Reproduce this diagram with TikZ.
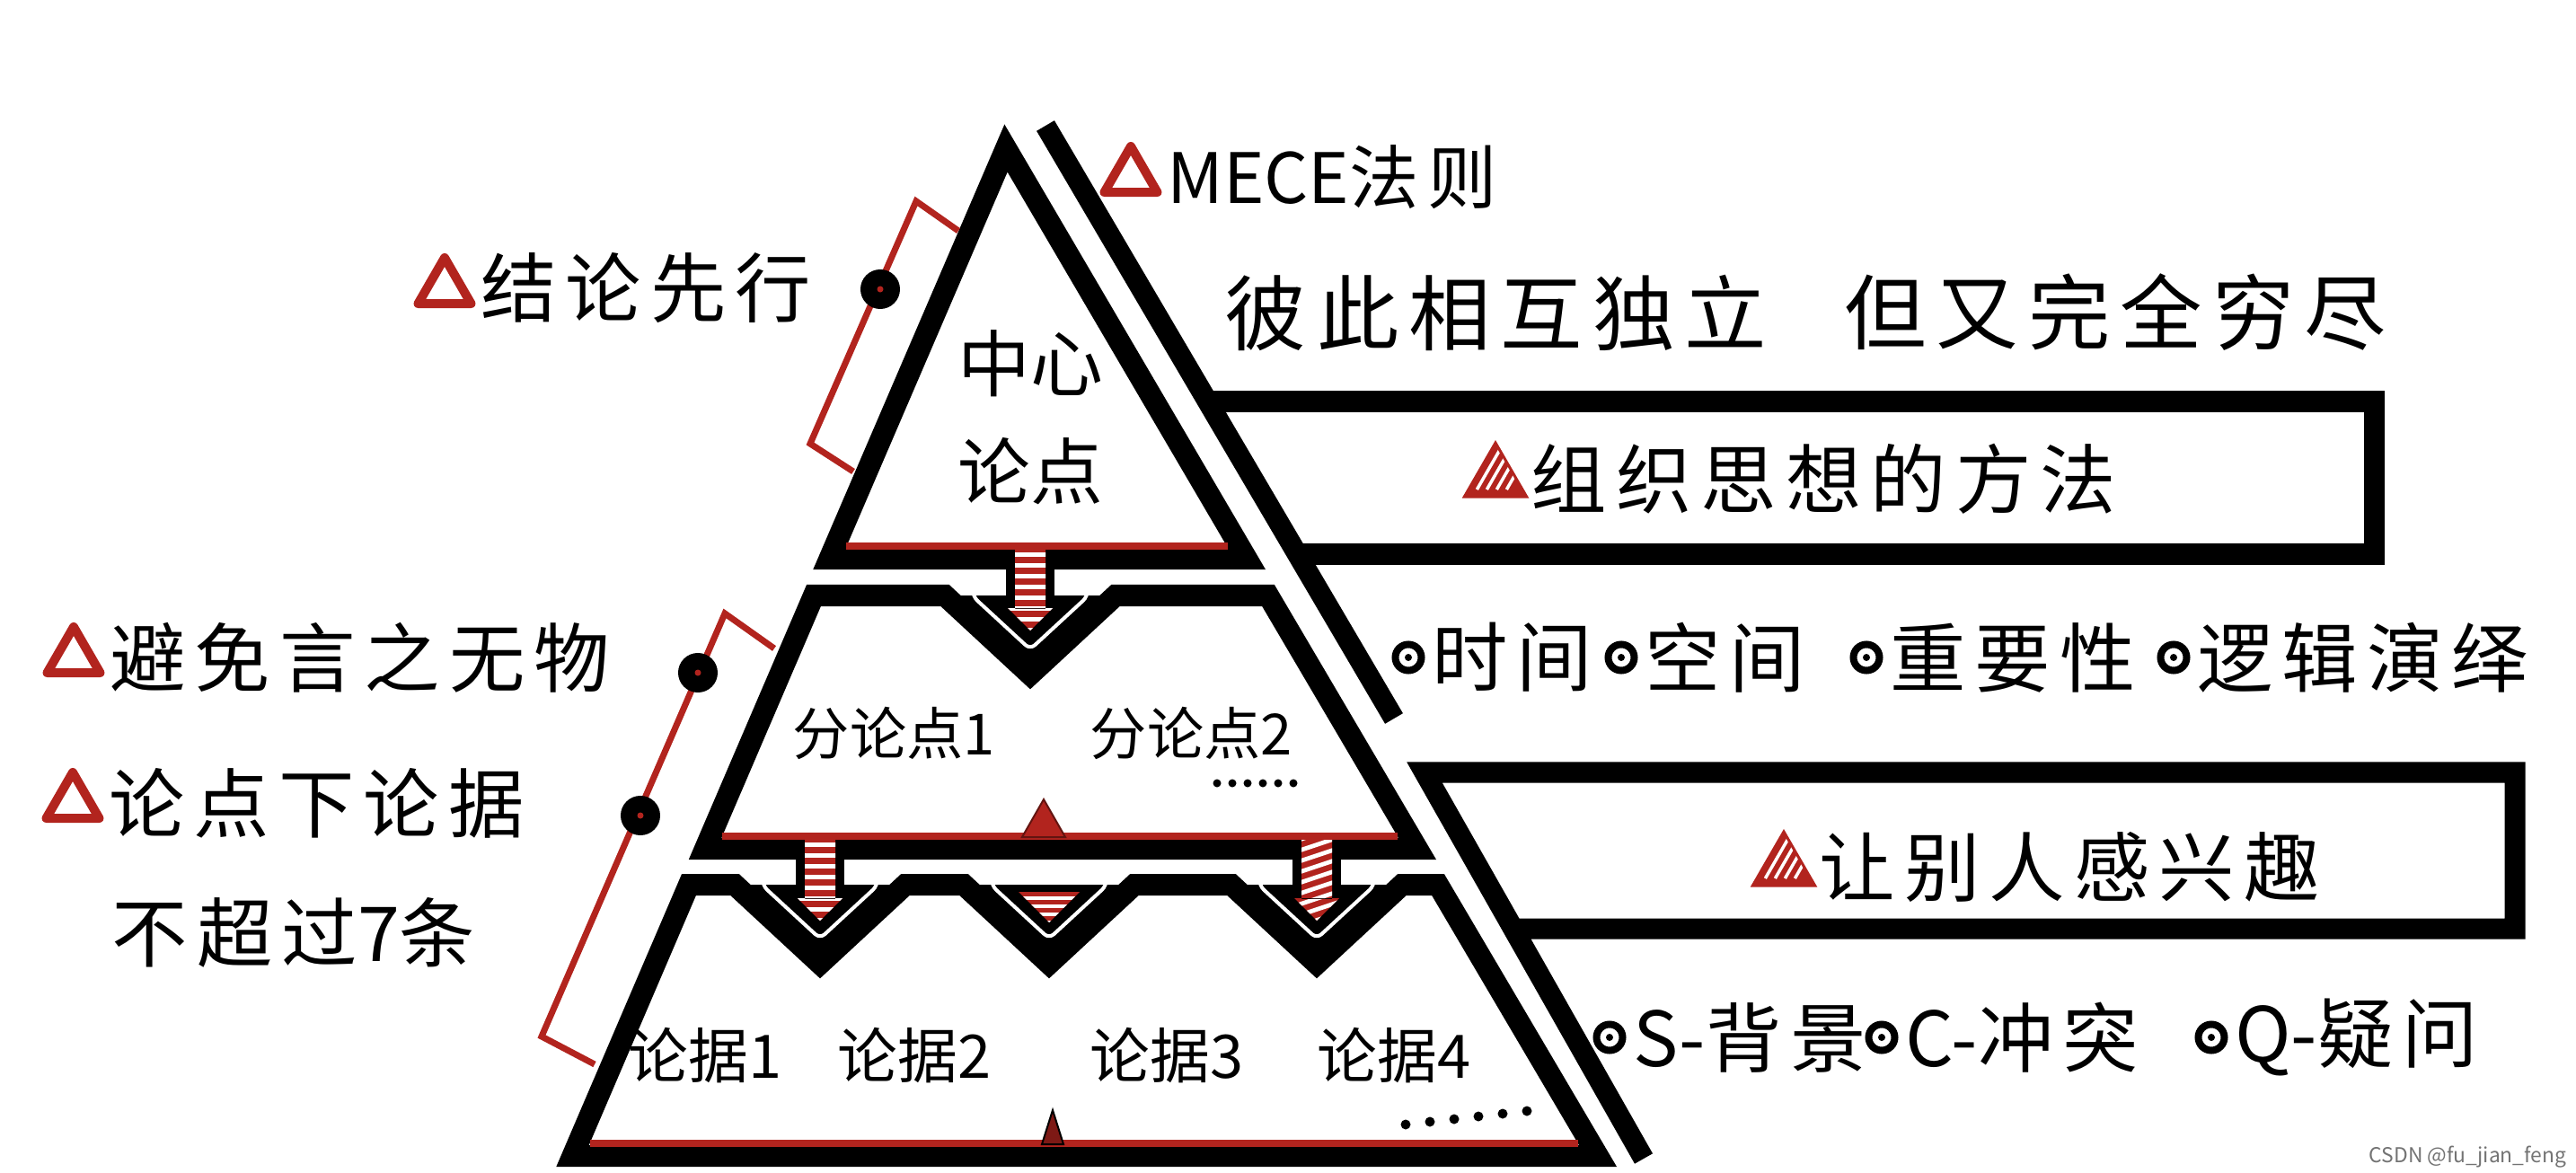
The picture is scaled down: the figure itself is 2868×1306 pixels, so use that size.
\documentclass[tikz,border=0pt]{standalone}
\usepackage{fontspec}
\newfontfamily\hand[LetterSpace=12]{Noto Sans CJK SC}
\newfontfamily\handtight{Noto Sans CJK SC}
\usetikzlibrary{positioning, calc, shapes.geometric}
\definecolor{pyred}{RGB}{178,36,30}

\begin{document}
\begin{tikzpicture}[
        x=0.01cm, y=-0.01cm,
        bar/.style={
            draw=black,
            line width=0.24cm,
            line join=miter
        },
        wall/.style={
            draw=black,
            line width=0.23cm,
            line join=miter
        },
        redbar/.style={
            draw=pyred,
            line width=0.08cm
        },
        bracket/.style={
            draw=pyred,
            line width=0.07cm,
            line join=miter
        },
        words/.style={
            font=\hand\fontsize{24}{28}\selectfont,
            inner sep=0pt,
            anchor=west
        },
        small/.style={
            font=\handtight\fontsize{18}{22}\selectfont,
            inner sep=0pt,
            anchor=west
        },
        hollowtri/.style={
            regular polygon,
            regular polygon sides=3,
            draw=pyred,
            line width=0.1cm,
            line join=round,
            minimum size=0.68cm,
            inner sep=0pt
        },
        stripetri/.style={
            regular polygon,
            regular polygon sides=3,
            fill=pyred,
            draw=pyred,
            line width=0.03cm,
            minimum size=0.8cm,
            inner sep=0pt,
            path picture={
                \foreach \k in {0,...,3}
                    \draw[white, line width=0.035cm]
                        ($(path picture bounding box.south west)+(\k*0.11cm+0.14cm,0.08cm)$) -- ++(60:0.75cm);
            }
        },
        knob/.style={
            circle,
            fill=black,
            minimum size=0.44cm,
            inner sep=0pt,
            path picture={\fill[pyred] (path picture bounding box.center) circle (0.035cm);}
        },
        ringdot/.style={
            circle,
            draw=black,
            line width=0.08cm,
            minimum size=0.29cm,
            inner sep=0pt,
            path picture={\fill[black] (path picture bounding box.center) circle (0.04cm);}
        }
    ]

    \useasboundingbox (0,0) rectangle (2868,1306);

    \coordinate (W1a) at (1164,140);
    \coordinate (W1b) at (1552,800);
    \draw[wall] (W1a) -- (W1b);
    \draw[wall] (1344,447) -- (2643,447) -- (2643,617) -- (1444,617);
    \draw[wall] (1830,1290) -- (1586,860) -- (2800,860) -- (2800,1034) -- (1685,1034);

    \coordinate (apex) at (1120,165);
    \draw[bar] (apex) -- (1388,622) -- (923.5,622) -- cycle;
    \draw[bar] (906,663) -- (1052,663) -- (1147,751) -- (1242,663) -- (1412,663)
        -- (1578,945) -- (785,945) -- cycle;
    \draw[bar] (767,985) -- (818,985) -- (913,1073) -- (1008,985) -- (1073,985)
        -- (1168,1073) -- (1263,985) -- (1371,985) -- (1466,1073) -- (1561,985)
        -- (1601,985) -- (1779,1287) -- (637.5,1287) -- cycle;

    \foreach \nx/\ny in {1147/663, 913/985, 1168/985, 1466/985} {
        \fill (\nx-95,\ny) -- (\nx,\ny+88) -- (\nx+95,\ny) -- cycle;
        \draw[white, line width=0.04cm, rounded corners=2pt]
            (\nx-64,\ny-12) -- (\nx-64,\ny+1) -- (\nx,\ny+60) -- (\nx+64,\ny+1) -- (\nx+64,\ny-12);
    }

    \foreach \ax/\ay/\tl in {1147/610/0, 913/933/0, 1466/933/10} {
        \fill (\ax-27,\ay+10) rectangle (\ax+27,\ay+62);
        \begin{scope}
            \clip (\ax-17,\ay) rectangle (\ax+17,\ay+68)
                (\ax-25,\ay+67) -- (\ax+25,\ay+67) -- (\ax,\ay+92) -- cycle;
            \fill[pyred] (\ax-30,\ay-5) rectangle (\ax+30,\ay+95);
            \foreach \s in {-1,...,8}
                \fill[white] (\ax-30,\ay+5+\s*12+\tl) -- (\ax+30,\ay+5+\s*12-\tl)
                    -- (\ax+30,\ay+10+\s*12-\tl) -- (\ax-30,\ay+10+\s*12+\tl) -- cycle;
        \end{scope}
    }

    \begin{scope}
        \clip (1134,993) -- (1202,993) -- (1168,1027) -- cycle;
        \fill[pyred] (1130,990) rectangle (1206,1030);
        \foreach \s in {0,...,3}
            \fill[white] (1130,998+\s*9) rectangle (1206,1002+\s*9);
    \end{scope}

    \draw[redbar] (942,608) -- (1367,608);
    \draw[redbar] (804,931) -- (1556,931);
    \draw[redbar] (657,1273) -- (1757,1273);
    \filldraw[fill=pyred, draw=pyred!55!black, line width=0.02cm]
        (1138,932) -- (1162,890) -- (1186,932) -- cycle;
    \filldraw[fill=pyred!70!black, draw=black, line width=0.02cm]
        (1160,1274) -- (1172,1236) -- (1184,1274) -- cycle;

    \foreach \d in {0,...,5}
        \fill (1355+\d*17,872) circle (4.5);
    \foreach \d in {0,...,5}
        \fill (1565+\d*27,1252-\d*3) circle (5.5);

    \draw[bracket] (1067,257) -- (1020,224) -- (902,494) -- (950,525);
    \draw[bracket] (862,722) -- (807,683) -- (603,1154) -- (662,1185);
    \node[knob] (k1) at (980,322) {};
    \node[knob] (k2) at (777,749) {};
    \node[knob] (k3) at (713,908) {};

    \node[hollowtri] (iConc) at (495,321) {};
    \node[words, right=4pt of iConc] (tConc) {结论先行};
    \node[hollowtri] (iMece) at (1259,197) {};
    \node[words, font=\hand\fontsize{22}{26}\selectfont, right=4pt of iMece] (tMece) {{\handtight MECE}法则};
    \node[words, font=\hand\fontsize{26}{30}\selectfont] (tMutual) at (1363,348) {彼此相互独立};
    \node[words, font=\hand\fontsize{26}{30}\selectfont, right=0.85cm of tMutual] (tExhaust) {但又完全穷尽};
    \node[stripetri] (iOrg) at (1665,533) {};
    \node[words, right=4pt of iOrg] (tOrg) {组织思想的方法};

    \node[font=\handtight\fontsize{23}{26}\selectfont, inner sep=0pt] (tCoreA) at (1147,405) {中心};
    \node[font=\handtight\fontsize{23}{26}\selectfont, inner sep=0pt] (tCoreB) at (1147,525) {论点};
    \node[small] (tSub1) at (882,816) {分论点1};
    \node[small] (tSub2) at (1213,816) {分论点2};
    \node[small, font=\handtight\fontsize{19}{22}\selectfont] (tArg1) at (699,1175) {论据1};
    \node[small, font=\handtight\fontsize{19}{22}\selectfont] (tArg2) at (932,1175) {论据2};
    \node[small, font=\handtight\fontsize{19}{22}\selectfont] (tArg3) at (1213,1175) {论据3};
    \node[small, font=\handtight\fontsize{19}{22}\selectfont] (tArg4) at (1466,1175) {论据4};

    \node[hollowtri] (iAvoid) at (82,732) {};
    \node[words, right=4pt of iAvoid] (tAvoid) {避免言之无物};
    \node[hollowtri] (iLimit) at (81,894) {};
    \node[words, right=4pt of iLimit] (tLimit) {论点下论据};
    \node[words] (tSeven) at (124,1038) {不超过{\handtight 7}条};

    \node[ringdot] (bTime) at (1568,732) {};
    \node[words, right=2pt of bTime] (tTime) {时间};
    \node[ringdot] (bSpace) at (1805,732) {};
    \node[words, right=2pt of bSpace] (tSpace) {空间};
    \node[ringdot] (bWeight) at (2078,732) {};
    \node[words, right=2pt of bWeight] (tWeight) {重要性};
    \node[ringdot] (bLogic) at (2420,732) {};
    \node[words, right=2pt of bLogic] (tLogic) {逻辑演绎};

    \node[stripetri] (iInterest) at (1986,966) {};
    \node[words, right=4pt of iInterest] (tInterest) {让别人感兴趣};

    \node[ringdot] (bSit) at (1792,1155) {};
    \node[words, right=2pt of bSit] (tSit) {{\handtight S-}背景};
    \node[ringdot] (bComp) at (2095,1155) {};
    \node[words, right=2pt of bComp] (tComp) {{\handtight C-}冲突};
    \node[ringdot] (bQues) at (2462,1155) {};
    \node[words, right=2pt of bQues] (tQues) {{\handtight Q-}疑问};

    \node[font=\handtight\fontsize{6.5}{7}\selectfont, text=black!55, anchor=east, inner sep=0pt]
        (wMark) at (2858,1288) {CSDN @fu\_jian\_feng};

\end{tikzpicture}
\end{document}
